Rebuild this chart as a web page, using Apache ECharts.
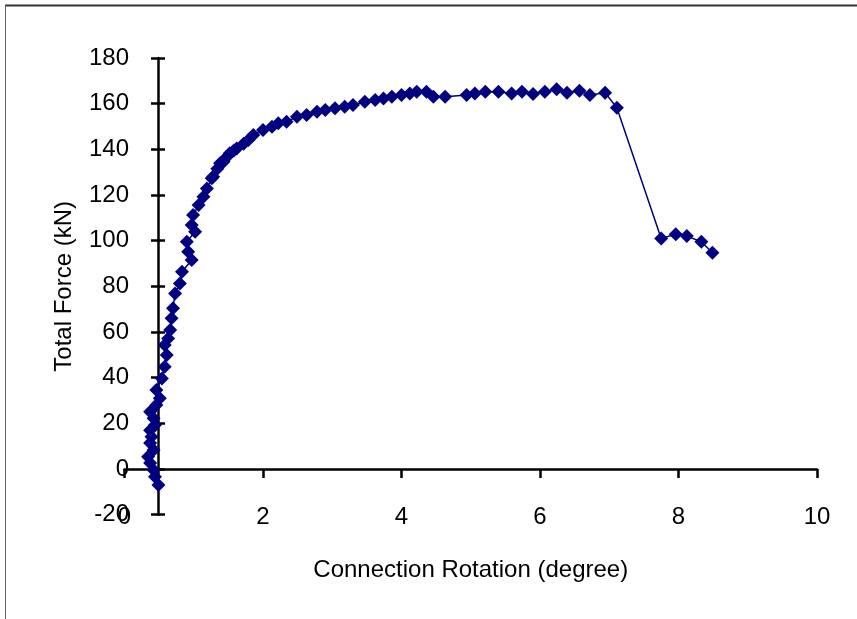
<!DOCTYPE html>
<html>
<head>
<meta charset="utf-8">
<script src="https://cdn.jsdelivr.net/npm/echarts@6/dist/echarts.min.js"></script>
<style>
html,body{margin:0;padding:0;background:#fff;}
#chart{width:857px;height:619px;}
</style>
</head>
<body>
<div id="chart"></div>
<script>
// Connection rotation (degree)
const rotation = [0.49,0.44,0.42,0.37,0.34,0.42,0.37,0.39,0.37,0.44,0.42,0.37,0.46,0.51,0.46,0.54,0.58,0.61,0.58,0.63,0.66,0.68,0.70,0.73,0.80,0.83,0.97,0.92,0.90,1.02,0.97,0.99,1.07,1.14,1.19,1.26,1.28,1.34,1.38,1.43,1.48,1.52,1.58,1.62,1.72,1.79,1.86,2.00,2.13,2.22,2.34,2.49,2.63,2.78,2.90,3.04,3.18,3.30,3.47,3.62,3.74,3.86,4.00,4.12,4.22,4.36,4.46,4.63,4.94,5.06,5.21,5.40,5.59,5.74,5.90,6.07,6.24,6.39,6.57,6.72,6.94,7.11,7.75,7.96,8.12,8.33,8.49];
// Total force (kN)
const force = [-7,-3.4,-0.4,2.6,5.4,8.3,11.4,14.1,17,19.3,22.2,25.1,28,31,34.6,39.7,44.8,49.9,54.3,57.2,60.9,66,70.4,76.9,81.3,86.4,91.5,95.2,99.5,103.9,106.9,111.2,115.6,119.2,122.9,127.3,128,131.5,133.9,134.6,136.8,138.3,139.5,140.4,142.5,144.1,146.3,148.5,149.9,151.4,152.1,154.3,155,156.5,157.2,158,158.7,159.4,160.8,161.6,162.3,163,163.8,164.5,165.2,165.2,163,163,163.8,164.5,165.2,165.2,164.5,165.2,164.2,165.2,166.3,164.8,165.7,163.8,164.8,158.2,101,102.8,102,99.5,94.7];
const xTicks = {min:0, max:10, interval:2};
const yTicks = {min:-20, max:180, interval:20};

const FONT = "'Liberation Sans Narrow','Arial Narrow','Liberation Sans',Arial,sans-serif";
const FS = 24;
const axisLineStyle = {color:'#000', width:2.5};
const tickStyle = {color:'#000', width:2.5};

const chart = echarts.init(document.getElementById('chart'), null, {renderer:'canvas'});
const points = rotation.map((x,i)=>[x, force[i]]);

chart.setOption({
  animation:false,
  backgroundColor:'#fff',
  grid:{left:124.5, right:40, top:58, bottom:104.3, containLabel:false, outerBoundsMode:'none'},
  xAxis:[
    {type:'value', min:xTicks.min, max:xTicks.max, interval:xTicks.interval,
     axisLine:{show:true, onZero:true, lineStyle:axisLineStyle},
     axisTick:{show:true, inside:false, length:9, lineStyle:tickStyle},
     axisLabel:{show:true, color:'#000', fontSize:FS, fontFamily:FONT, margin:-9},
     splitLine:{show:false},
     name:'Connection Rotation (degree)', nameLocation:'middle', nameGap:44,
     nameTextStyle:{color:'#000', fontSize:FS, fontFamily:FONT}},
    {type:'value', min:xTicks.min, max:xTicks.max, interval:xTicks.interval,
     axisLine:{show:false, onZero:true},
     axisTick:{show:true, inside:true, length:9, lineStyle:tickStyle},
     axisLabel:{show:false}, splitLine:{show:false}}
  ],
  yAxis:[
    {type:'value', min:yTicks.min, max:yTicks.max, interval:yTicks.interval, position:'left', offset:-33.5,
     axisLine:{show:true, onZero:false, lineStyle:axisLineStyle},
     axisTick:{show:true, inside:false, length:7, lineStyle:tickStyle},
     axisLabel:{show:true, color:'#000', fontSize:FS, fontFamily:FONT, margin:29},
     splitLine:{show:false},
     name:'Total Force (kN)', nameLocation:'middle', nameGap:82,
     nameTextStyle:{color:'#000', fontSize:FS, fontFamily:FONT}},
    {type:'value', min:yTicks.min, max:yTicks.max, interval:yTicks.interval, position:'left', offset:-33.5,
     axisLine:{show:false, onZero:false},
     axisTick:{show:true, inside:true, length:7, lineStyle:tickStyle},
     axisLabel:{show:false}, splitLine:{show:false}}
  ],
  graphic:[
    {type:'line', shape:{x1:5, y1:5.5, x2:857, y2:5.5}, style:{stroke:'#333', lineWidth:2}, silent:true},
    {type:'line', shape:{x1:5.5, y1:5, x2:5.5, y2:619}, style:{stroke:'#666', lineWidth:1}, silent:true}
  ],
  series:[{
    type:'line', xAxisIndex:0, yAxisIndex:0,
    data:points,
    symbol:'diamond', symbolSize:14,
    itemStyle:{color:'#000080'},
    lineStyle:{color:'#000080', width:1.5},
    z:3
  }]
});
</script>
</body>
</html>
